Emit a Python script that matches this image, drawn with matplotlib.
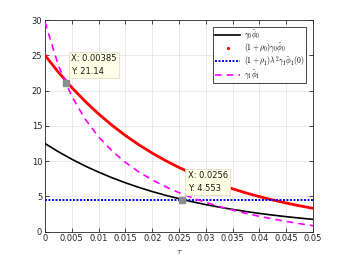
import matplotlib
matplotlib.use("Agg")
import matplotlib.pyplot as plt
from matplotlib.lines import Line2D

tau = [0.0, 0.0025, 0.005, 0.0075, 0.01, 0.0125, 0.015, 0.0175, 0.02, 0.0225,
       0.025, 0.0275, 0.03, 0.0325, 0.035, 0.0375, 0.04, 0.0425, 0.045, 0.0475, 0.05]
gamma0_phi0 = [12.50, 11.33, 10.27, 9.31, 8.44, 7.65, 6.93, 6.28, 5.69, 5.16,
               4.68, 4.24, 3.84, 3.48, 3.16, 2.86, 2.59, 2.35, 2.13, 1.93, 1.75]
rho0_gamma0_phi0 = [25.00, 22.60, 20.43, 18.46, 16.69, 15.08, 13.63, 12.32, 11.14, 10.07,
                    9.10, 8.23, 7.44, 6.72, 6.08, 5.49, 4.97, 4.49, 4.06, 3.67, 3.32]
gamma1_phi1 = [29.71, 23.54, 19.18, 15.95, 13.44, 11.45, 9.83, 8.48, 7.34, 6.37,
               5.53, 4.79, 4.15, 3.57, 3.06, 2.60, 2.18, 1.80, 1.46, 1.14, 0.85]
threshold = 4.553
tip_x = [0.00385, 0.0256]
tip_y = [21.14, 4.553]
tip_text = ["X: 0.00385\nY: 21.14", "X: 0.0256\nY: 4.553"]
xticks = [0, 0.005, 0.01, 0.015, 0.02, 0.025, 0.03, 0.035, 0.04, 0.045, 0.05]
xticklabels = ["0", "0.005", "0.01", "0.015", "0.02", "0.025", "0.03", "0.035", "0.04", "0.045", "0.05"]
yticks = [0, 5, 10, 15, 20, 25, 30]

plt.rcParams['mathtext.fontset'] = 'cm'
plt.rcParams['font.family'] = ['DejaVu Sans']

fig = plt.figure(figsize=(3.46, 2.60), dpi=100)
ax = fig.add_axes([45/346, 1-231.7/260, (313-45)/346, (231.7-20)/260])

grey = '#262626'
ax.plot(tau, gamma0_phi0, color='black', lw=1.2, zorder=3)
ax.plot(tau, rho0_gamma0_phi0, color='red', lw=2.0, zorder=3)
ax.plot([tau[0], tau[-1]], [threshold, threshold], color='blue', lw=1.4,
        linestyle=(0, (1, 0.8)), zorder=3)
ax.plot(tau, gamma1_phi1, color='magenta', lw=1.2, linestyle=(0, (4, 3)), zorder=3)

ax.set_xlim(0, 0.05)
ax.set_ylim(0, 30)
ax.set_xticks(xticks)
ax.set_xticklabels(xticklabels)
ax.set_yticks(yticks)
ax.tick_params(direction='in', length=3, width=0.6, labelsize=6, colors=grey,
               top=True, right=True, pad=2)
for s in ax.spines.values():
    s.set_color(grey)
    s.set_linewidth(0.6)
ax.grid(True, color='#e6e6e6', lw=0.6)
ax.set_axisbelow(True)
ax.set_xlabel(r'$\tau$', fontsize=7, color=grey, labelpad=2)

# data tips
for x, y, t in zip(tip_x, tip_y, tip_text):
    ax.plot([x], [y], marker='s', ms=4.5, color='#8c8c8c', mec='#8c8c8c', zorder=5)
    ax.annotate(t, (x, y), xytext=(4, 5), textcoords='offset points',
                fontsize=6, color='#1a1a1a', va='bottom', ha='left', linespacing=1.5,
                bbox=dict(boxstyle='square,pad=0.3', fc='#ffffe6', ec='#d9d9c0', lw=0.5),
                zorder=6)

handles = [
    Line2D([], [], color='black', lw=1.2),
    Line2D([], [], color='red', marker='.', ms=2.5, linestyle='none'),
    Line2D([], [], color='blue', lw=1.4, linestyle=(0, (1, 0.8))),
    Line2D([], [], color='magenta', lw=1.2, linestyle=(0, (4, 3))),
]
labels = [r'$\gamma_0\tilde{\phi}_0$',
          r'$(1+\rho_0)\gamma_0\tilde{\phi}_0$',
          r'$(1+\rho_1)\lambda^2\gamma_1\tilde{\phi}_1(0)$',
          r'$\gamma_1\tilde{\phi}_1$']
leg = ax.legend(handles, labels, loc='upper right', bbox_to_anchor=(306/346, 1-27/260),
                bbox_transform=fig.transFigure, borderaxespad=0, fontsize=5.5,
                fancybox=False, framealpha=1, edgecolor=grey, handlelength=3.3,
                handletextpad=0.5, labelspacing=0.0, borderpad=0.2)
leg.get_frame().set_linewidth(0.6)

fig.savefig('out.png', dpi=100)
